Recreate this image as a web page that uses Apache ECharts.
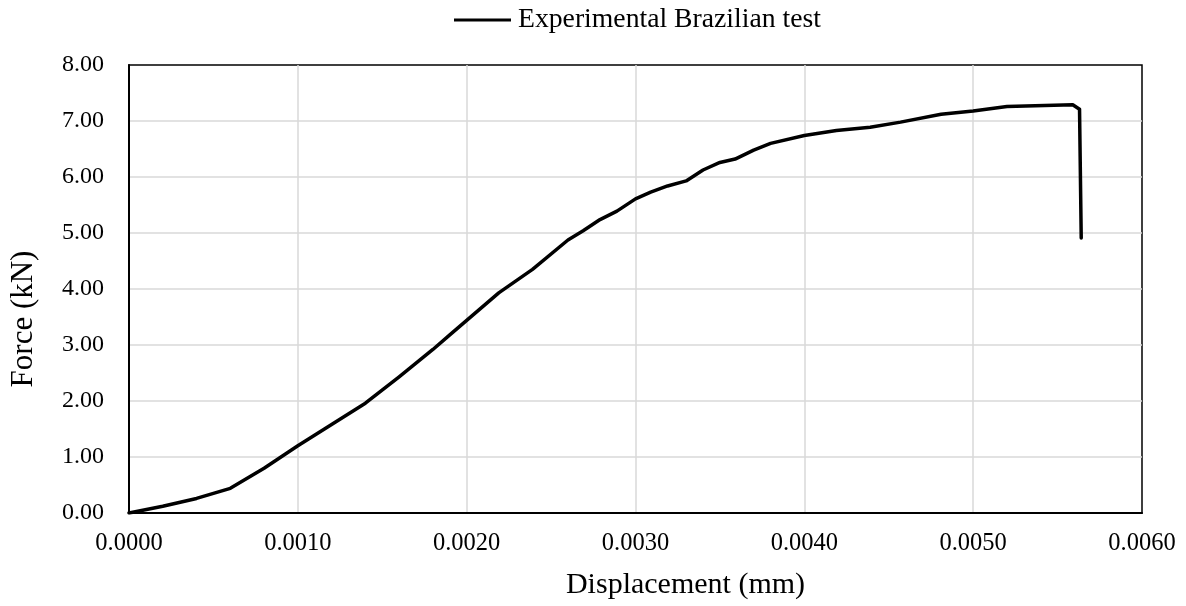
<!DOCTYPE html>
<html>
<head>
<meta charset="utf-8">
<script src="https://cdn.jsdelivr.net/npm/echarts@6/dist/echarts.min.js"></script>
<style>
html,body{margin:0;padding:0;background:#fff;}
#c{width:1186px;height:606px;}
</style>
</head>
<body>
<div id="c"></div>
<script>
const seriesName = 'Experimental Brazilian test';
const displacement = [0, 0.0002, 0.0004, 0.0006, 0.0008, 0.0010, 0.0012, 0.0014, 0.0016, 0.0018, 0.0019, 0.00219, 0.00239, 0.0026, 0.00269, 0.00279, 0.00289, 0.0030, 0.00309, 0.00319, 0.0033, 0.0034, 0.0035, 0.00359, 0.0037, 0.0038, 0.0040, 0.00419, 0.00439, 0.00457, 0.00481, 0.0050, 0.0052, 0.00559, 0.00563, 0.00564];
const force = [0, 0.12, 0.26, 0.44, 0.80, 1.20, 1.58, 1.96, 2.43, 2.92, 3.18, 3.93, 4.35, 4.875, 5.04, 5.24, 5.39, 5.61, 5.73, 5.84, 5.93, 6.125, 6.26, 6.32, 6.48, 6.60, 6.74, 6.83, 6.89, 6.98, 7.12, 7.18, 7.26, 7.29, 7.21, 4.91];
const xTicks = {min: 0, max: 0.006, interval: 0.001};
const yTicks = {min: 0, max: 8, interval: 1};
const xTitle = 'Displacement (mm)';
const yTitle = 'Force (kN)';

const font = 'Liberation Serif';
const chart = echarts.init(document.getElementById('c'), null, {renderer: 'canvas'});
chart.setOption({
  animation: false,
  backgroundColor: '#fff',
  legend: {
    top: 6,
    left: 454,
    padding: 0,
    data: [{name: seriesName, icon: 'rect'}],
    itemWidth: 57,
    itemHeight: 3,
    itemGap: 0,
    textStyle: {fontFamily: font, fontSize: 27.7, color: '#000', padding: [0,0,0,2]}
  },
  grid: {
    left: 128, right: 44, top: 65, bottom: 93,
    show: true, borderColor: '#000', borderWidth: 1.5, containLabel: false
  },
  xAxis: {
    type: 'value',
    min: xTicks.min, max: xTicks.max, interval: xTicks.interval,
    name: xTitle,
    nameLocation: 'middle',
    nameGap: 57,
    nameTextStyle: {fontFamily: font, fontSize: 30, color: '#000', padding: [0,0,0,100]},
    axisLine: {show: true, onZero: false, lineStyle: {color: '#000', width: 2}},
    axisTick: {show: false},
    splitLine: {show: true, showMaxLine: false, showMinLine: false, lineStyle: {color: '#d9d9d9', width: 1.5}},
    axisLabel: {fontFamily: font, fontSize: 24.5, color: '#000', margin: 18,
      formatter: v => v.toFixed(4)}
  },
  yAxis: {
    type: 'value',
    min: yTicks.min, max: yTicks.max, interval: yTicks.interval,
    name: yTitle,
    nameLocation: 'middle',
    nameGap: 90,
    nameTextStyle: {fontFamily: font, fontSize: 31, color: '#000', padding: [0,60,0,0]},
    axisLine: {show: true, lineStyle: {color: '#000', width: 2}},
    axisTick: {show: false},
    splitLine: {show: true, showMaxLine: false, showMinLine: false, lineStyle: {color: '#d9d9d9', width: 1.5}},
    axisLabel: {fontFamily: font, fontSize: 24, color: '#000', margin: 25,
      formatter: v => v.toFixed(2)}
  },
  series: [{
    name: seriesName,
    type: 'line',
    data: displacement.map((x, i) => [x, force[i]]),
    showSymbol: false,
    symbol: 'none',
    smooth: false,
    color: '#000',
    lineStyle: {color: '#000', width: 3.5, join: 'round', cap: 'round'}
  }]
});
</script>
</body>
</html>
